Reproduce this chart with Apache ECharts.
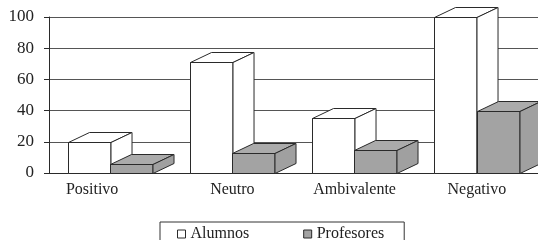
<!DOCTYPE html>
<html>
<head>
<meta charset="utf-8">
<script src="https://cdn.jsdelivr.net/npm/echarts@6/dist/echarts.min.js"></script>
<style>
  html, body { margin: 0; padding: 0; background: #fff; }
  #chart { width: 538px; height: 240px; }
</style>
</head>
<body>
<div id="chart"></div>
<script>
// datos
const categories = ['Positivo', 'Neutro', 'Ambivalente', 'Negativo']
const alumnos = [20, 71, 35, 100]
const profesores = [6, 13, 15, 40]
const yTicks = [0, 20, 40, 60, 80, 100]

const FONT = '"Liberation Serif", "DejaVu Serif", serif'
const LINE = '#2a2a2a'

// caja 3D: frente, tapa y lateral, a partir de las escalas del eje
const makeBox = (slot, fills) => (params, api) => {
  const cat = api.value(0)
  const val = api.value(1)
  const band = api.size([1, 0])[0]
  const base = api.coord([cat, 0])
  const top = api.coord([cat, val])
  const w = band * 0.344
  const dx = band * 0.172
  const dy = 10
  const x0 = Math.round(base[0] - band / 2 + band * 0.153 + slot * w) + 0.5
  const x1 = Math.round(x0 + w)
  const by = Math.round(base[1]) + 0.5
  const ty = Math.round(top[1]) + 0.5
  const stroke = { stroke: LINE, lineWidth: 1 }
  return {
    type: 'group',
    children: [
      {
        type: 'polygon',
        shape: { points: [[x0, ty], [x1, ty], [x1, by], [x0, by]] },
        style: Object.assign({ fill: fills[0] }, stroke)
      },
      {
        type: 'polygon',
        shape: { points: [[x0, ty], [x0 + dx, ty - dy], [x1 + dx, ty - dy], [x1, ty]] },
        style: Object.assign({ fill: fills[1] }, stroke)
      },
      {
        type: 'polygon',
        shape: { points: [[x1, ty], [x1 + dx, ty - dy], [x1 + dx, by - dy], [x1, by]] },
        style: Object.assign({ fill: fills[2] }, stroke)
      }
    ]
  }
}

const chart = echarts.init(document.getElementById('chart'), null, { renderer: 'canvas' })

chart.setOption({
  animation: false,
  backgroundColor: '#fff',
  textStyle: { fontFamily: FONT, color: '#222' },
  grid: { left: 49, top: 17, right: 0, bottom: 67 },
  legend: {
    left: 160,
    top: 222,
    padding: [4, 20, 6, 17],
    itemGap: 54,
    itemWidth: 8,
    itemHeight: 8,
    icon: 'rect',
    borderColor: '#333',
    borderWidth: 1,
    textStyle: { fontFamily: FONT, fontSize: 16, color: '#222' },
    data: [
      { name: 'Alumnos', itemStyle: { color: '#fff', borderColor: LINE, borderWidth: 1 } },
      { name: 'Profesores', itemStyle: { color: '#a3a3a3', borderColor: LINE, borderWidth: 1 } }
    ]
  },
  xAxis: {
    type: 'category',
    data: categories.map((c, i) => i === 0
      ? { value: c, textStyle: { padding: [0, 36, 0, 0] } }
      : { value: c }),
    axisLine: { lineStyle: { color: LINE, width: 1 } },
    axisTick: { length: 4, lineStyle: { color: LINE } },
    axisLabel: { margin: 9, fontSize: 16, fontFamily: FONT, color: '#222' },
    splitLine: { show: false }
  },
  yAxis: {
    type: 'value',
    min: yTicks[0],
    max: yTicks[yTicks.length - 1],
    interval: 20,
    axisLine: { show: true, lineStyle: { color: LINE, width: 1 } },
    axisTick: { show: true, length: 5, lineStyle: { color: LINE } },
    axisLabel: { margin: 15, fontSize: 17, fontFamily: FONT, color: '#222' },
    splitLine: { lineStyle: { color: '#555', width: 1 } }
  },
  series: [
    {
      name: 'Alumnos',
      type: 'custom',
      clip: false,
      itemStyle: { color: '#fff' },
      renderItem: makeBox(0, ['#ffffff', '#ffffff', '#ffffff']),
      encode: { x: 0, y: 1 },
      data: alumnos.map((v, i) => [i, v])
    },
    {
      name: 'Profesores',
      type: 'custom',
      clip: false,
      itemStyle: { color: '#a3a3a3' },
      renderItem: makeBox(1, ['#a3a3a3', '#ababab', '#a0a0a0']),
      encode: { x: 0, y: 1 },
      data: profesores.map((v, i) => [i, v])
    }
  ]
})
</script>
</body>
</html>
